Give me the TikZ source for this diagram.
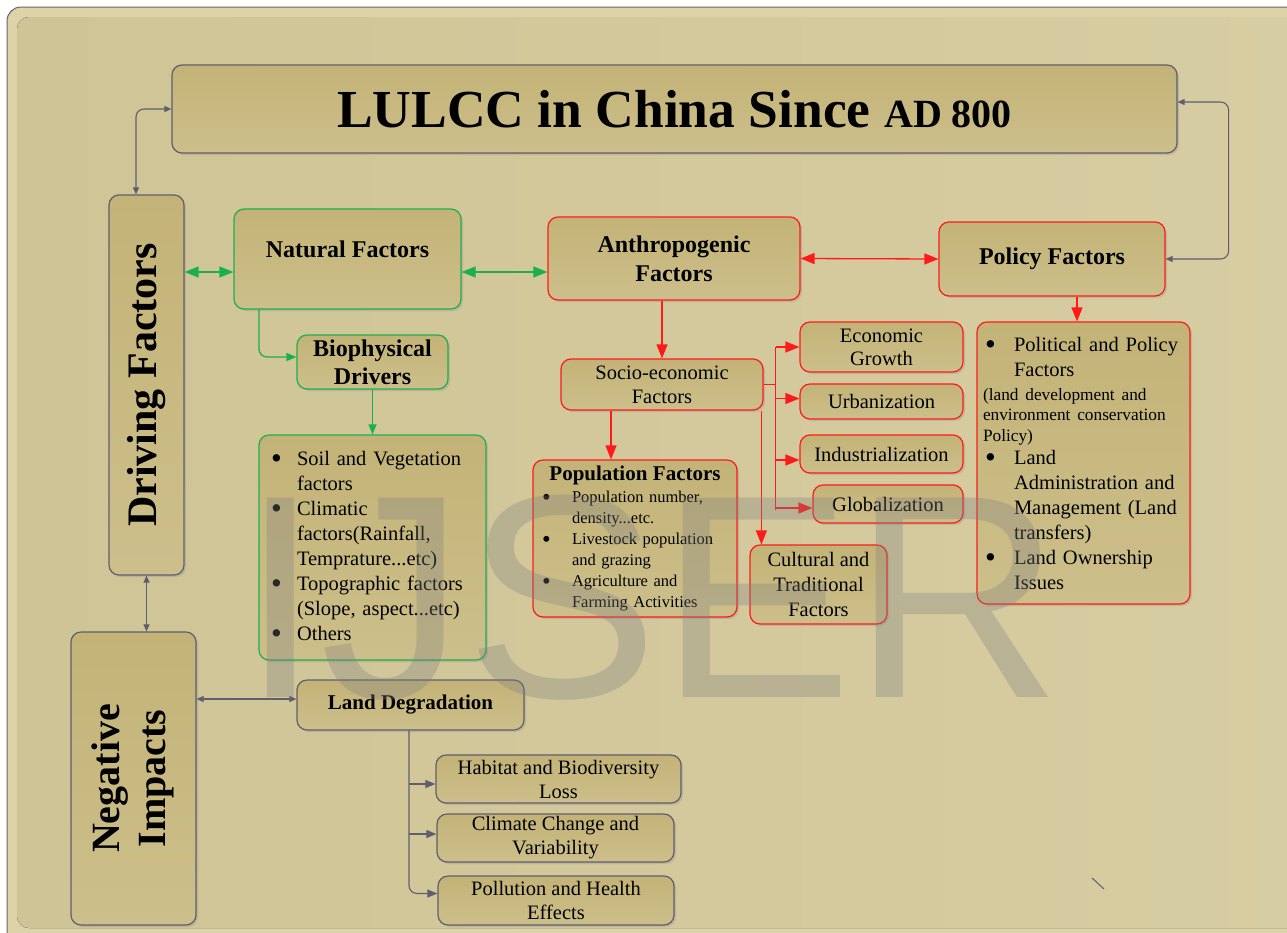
\documentclass[tikz,border=0pt]{standalone}
\usepackage{fontspec}
\usepackage{graphicx}
\setmainfont{Liberation Serif}
\newfontfamily\wmfont{Liberation Sans}
\usetikzlibrary{arrows.meta,shadows,calc}
\setlength{\parindent}{0pt}
\definecolor{bgout}{HTML}{DCD3A9}
\definecolor{bgin}{HTML}{CFC495}
\definecolor{bginB}{HTML}{D7CDA2}
\definecolor{boxA}{HTML}{C3B377}
\definecolor{boxB}{HTML}{CDBF8B}
\definecolor{lgray}{HTML}{5E5E6E}
\definecolor{lgreen}{HTML}{1CB04C}
\definecolor{lred}{HTML}{FF1A1A}
\newcommand\bigbul{\raisebox{-0.17em}{\scalebox{1.5}{\textbullet}}}
\newcommand\bl[2]{\makebox[#1][l]{\hspace{2pt}\bigbul}#2}
\newcommand\cl[2]{\hspace*{#1}#2}
\tikzset{
  gT/.tip={Triangle[length=7pt,width=6pt]},
  mT/.tip={Triangle[length=10pt,width=8pt]},
  bT/.tip={Triangle[length=14pt,width=11pt]},
}
\begin{document}
\begin{tikzpicture}[x=1pt,y=-1pt,
  box/.style={rounded corners=10pt, line width=1.2pt, top color=boxA, bottom color=boxB,
    drop shadow={shadow xshift=2pt, shadow yshift=-2pt, opacity=0.25},
    inner ysep=0pt, inner xsep=4pt, align=center, text=black},
  graybox/.style={box, draw=lgray},
  greenbox/.style={box, draw=lgreen},
  redbox/.style={box, draw=lred},
  reg/.style={font=\fontsize{20.5}{24}\selectfont},
  hdr/.style={font=\bfseries\fontsize{24}{29}\selectfont},
  gline/.style={draw=lgray, line width=1.1pt, rounded corners=8pt},
  gsingle/.style={draw=lgreen, line width=1.3pt, rounded corners=8pt, arrows={-mT}},
  gdbl/.style={draw=lgreen, line width=1.3pt, arrows={bT-bT}},
  rline/.style={draw=lred, line width=1.3pt},
  rsingle/.style={draw=lred, line width=1.3pt, arrows={-bT}},
  rdbl/.style={draw=lred, line width=1.3pt, arrows={bT-bT}},
]
\useasboundingbox (0,0) rectangle (1287,932);
\fill[white] (0,0) rectangle (1287,932);
\draw[draw=black!60, fill=bgout, line width=1pt, rounded corners=14pt] (7,7) rectangle (1310,950);
\fill[rounded corners=12pt, left color=bgin, right color=bginB] (17,17) rectangle (1300,928);

% boxes
\node[graybox, minimum width=1005pt, minimum height=88pt, font=\bfseries\fontsize{53.5}{60}\selectfont] (title) at (674.5,109) {LULCC in China Since {\fontsize{40}{40}\selectfont AD 800}};
\node[graybox, minimum width=75pt, minimum height=380pt, font=\bfseries\fontsize{42}{42}\selectfont] (drive) at (146.5,385) {\rotatebox{90}{Driving Factors}};
\node[graybox, minimum width=125pt, minimum height=293pt, font=\bfseries\fontsize{40}{46}\selectfont] (neg) at (133.5,778.5) {\rotatebox{90}{\begin{tabular}{@{}c@{}}Negative\\Impacts\end{tabular}}};

\node[greenbox, minimum width=227pt, minimum height=100pt, hdr, text depth=20pt] (nat) at (347.5,259) {Natural Factors};
\node[greenbox, minimum width=151pt, minimum height=54pt, font=\bfseries\fontsize{24}{28}\selectfont] (bio) at (372.5,362) {Biophysical\\Drivers};
\node[greenbox, minimum width=227pt, minimum height=225pt, text width=207pt, inner xsep=10pt, align=left, font=\fontsize{20.5}{25}\selectfont] (natlist) at (372.5,547.5)
 {\bl{28pt}{Soil and Vegetation}\\ \cl{28pt}{factors}\\ \bl{28pt}{Climatic}\\ \cl{28pt}{factors(Rainfall,}\\ \cl{28pt}{Temprature...etc)}\\ \bl{28pt}{Topographic factors}\\ \cl{28pt}{(Slope, aspect...etc)}\\ \bl{28pt}{Others}};

\node[redbox, minimum width=252pt, minimum height=83pt, hdr] (anth) at (674,258.5) {Anthropogenic\\Factors};
\node[redbox, minimum width=226pt, minimum height=74pt, hdr] (pol) at (1052,259) {Policy Factors};
\node[redbox, minimum width=202pt, minimum height=51pt, reg] (socio) at (662,384.5) {Socio-economic\\Factors};
\node[redbox, minimum width=204pt, minimum height=157pt, text width=190pt, inner xsep=7pt, align=left, font=\fontsize{16.5}{21}\selectfont] (popu) at (635,538.5)
 {\makebox[190pt]{\bfseries\fontsize{21}{21}\selectfont Population Factors}\\[1pt] \bl{32pt}{Population number,}\\ \cl{32pt}{density...etc.}\\ \bl{32pt}{Livestock population}\\ \cl{32pt}{and grazing}\\ \bl{32pt}{Agriculture and}\\ \cl{32pt}{Farming Activities}};
\node[redbox, minimum width=163pt, minimum height=50pt, font=\fontsize{20.5}{23}\selectfont] (econ) at (881.5,347) {Economic\\Growth};
\node[redbox, minimum width=163pt, minimum height=35pt, reg] (urban) at (881.5,401.5) {Urbanization};
\node[redbox, minimum width=163pt, minimum height=38pt, reg] (indus) at (881.5,454) {Industrialization};
\node[redbox, minimum width=150pt, minimum height=38pt, reg] (glob) at (888,504) {Globalization};
\node[redbox, minimum width=137pt, minimum height=79pt, font=\fontsize{20.5}{25}\selectfont] (cult) at (818.5,584.5) {Cultural and\\Traditional\\Factors};
\node[redbox, minimum width=213pt, minimum height=282pt, text width=201pt, inner xsep=6pt, align=left, font=\fontsize{20.5}{25}\selectfont] (polist) at (1083.5,463)
 {\bl{31pt}{Political and Policy}\\ \cl{31pt}{Factors}\\[-1pt]
  {\fontsize{17.3}{20}\selectfont (land development and}\\[-5pt]
  {\fontsize{17.3}{20}\selectfont environment conservation}\\[-4pt]
  {\fontsize{17.3}{20}\selectfont Policy)}\\[-2pt]
  \bl{31pt}{Land}\\ \cl{31pt}{Administration and}\\ \cl{31pt}{Management (Land}\\ \cl{31pt}{transfers)}\\ \bl{31pt}{Land Ownership}\\ \cl{31pt}{Issues}};

\node[graybox, minimum width=227pt, minimum height=50pt, font=\bfseries\fontsize{21}{24}\selectfont] (land) at (410.5,705) {Land Degradation};
\node[graybox, minimum width=245pt, minimum height=48pt, reg] (hab) at (558.5,779) {Habitat and Biodiversity\\Loss};
\node[graybox, minimum width=237pt, minimum height=48pt, reg] (clim) at (555.5,838) {Climate Change and\\Variability};
\node[graybox, minimum width=236pt, minimum height=49pt, reg] (poll) at (556,900.5) {Pollution and Health\\Effects};

% connectors
\draw[gline, arrows={gT-gT}] ([xshift=-10.5pt]drive.north) |- (title.west);
\draw[gline, arrows={gT-gT}] ([yshift=7pt]title.east) -- ++(51,0) |- (pol.east);
\coordinate (gy) at ([yshift=-13pt]nat.west);
\draw[gdbl] (drive.east |- gy) -- (gy);
\coordinate (gy2) at ([yshift=-13pt]nat.east);
\draw[gdbl] (gy2) -- (anth.west |- gy2);
\draw[rdbl] (anth.east) -- (pol.west);
\draw[gsingle] ([xshift=-88.5pt]nat.south) |- ([yshift=5pt]bio.west);
\draw[gsingle] (bio.south) -- (natlist.north);
\draw[rsingle] (socio.north |- anth.south) -- (socio.north);
\coordinate (ps) at ([xshift=-51pt]socio.south);
\draw[rsingle] (ps) -- (ps |- popu.north);
\coordinate (sb) at ([xshift=12pt]socio.east);
\coordinate (ua) at ([yshift=3pt]urban.west);
\coordinate (ia) at ([yshift=-6pt]indus.west);
\coordinate (ga) at ([yshift=-4pt]glob.west);
\draw[rline] (socio.east) -- (sb);
\draw[rline] (sb |- econ.west) -- ([yshift=-2pt]sb |- ga);
\draw[rsingle] (sb |- econ.west) -- (econ.west);
\draw[rsingle] (sb |- ua) -- (ua);
\draw[rsingle] (sb |- ia) -- (ia);
\draw[rsingle] (sb |- ga) -- (ga);
\coordinate (ca) at ([xshift=12pt]cult.north west);
\draw[rsingle] (ca |- socio.south) -- (ca);
\coordinate (pa) at ([xshift=-6.5pt]polist.north);
\draw[rsingle] (pa |- pol.south) -- (pa);
\draw[gline, arrows={gT-gT}] (drive.south) -- (drive.south |- neg.north);
\coordinate (la) at ([yshift=6pt]land.west);
\draw[gline, arrows={gT-gT}] (neg.east |- la) -- (la);
\coordinate (lv) at ([xshift=-1.5pt]land.south);
\coordinate (ha) at ([yshift=-5pt]hab.west);
\coordinate (cla) at ([yshift=4pt]clim.west);
\coordinate (pla) at ([yshift=7pt]poll.west);
\draw[gline, arrows={-mT}] (lv) |- (pla);
\draw[gline, arrows={-mT}] (lv |- ha) -- (ha);
\draw[gline, arrows={-mT}] (lv |- cla) -- (cla);
\draw[draw=lgray, line width=1pt] (1092,878) -- (1104,889);

% watermark
\node[anchor=base west, inner sep=0pt, font=\wmfont\fontsize{290}{290}\selectfont, text=black!50, text opacity=0.32] (wm) at (240,697) {IJSER};
\end{tikzpicture}
\end{document}
